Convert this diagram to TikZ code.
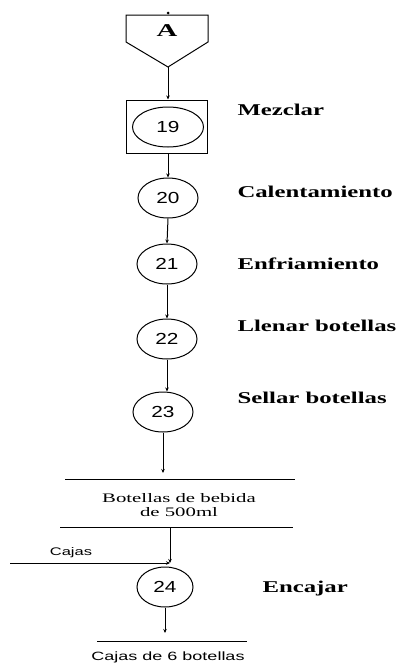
\documentclass[tikz,border=0pt]{standalone}
\usepackage{fontspec}
\setmainfont{Liberation Serif}
\setsansfont{Liberation Sans}
\usetikzlibrary{shapes.geometric,arrows.meta}
\newcommand{\sx}[2][1.5]{\scalebox{#1}[1]{#2}}
\begin{document}
\begin{tikzpicture}[x=1pt,y=-1pt, line width=1pt,
 op/.style={draw, ellipse, minimum width=60pt, minimum height=40pt, inner sep=0pt, font=\sffamily\fontsize{16}{16}\selectfont},
 lbl/.style={anchor=west, font=\bfseries\fontsize{16.5}{16.5}\selectfont, inner sep=0pt},
 txt/.style={inner sep=0pt, align=center},
 arr/.style={-{Stealth[length=4pt,width=3.5pt]}}]
\useasboundingbox (0,0) rectangle (396,672);
% off-page connector
\coordinate (pTL) at (126,15);
\coordinate (pTR) at (208,15);
\coordinate (pBR) at (208,42);
\coordinate (pApex) at (168,67);
\coordinate (pBL) at (126,42);
\draw (pTL) -- (pTR) -- (pBR) -- (pApex) -- (pBL) -- cycle;
\node[circle, fill, inner sep=0pt, minimum size=3pt] (dot) at (168,13) {};
\node[txt, font=\bfseries\fontsize{18}{18}\selectfont] (A) at (167,31) {\sx[1.6]{A}};
% operation 19 in box
\node[draw, minimum width=81pt, minimum height=53pt, inner sep=0pt] (box) at (166.5,126.5) {};
\node[op, minimum width=71pt] (n19) at (168,127) {\sx[1.3]{19}};
\node[op] (n20) at (168,198) {\sx[1.3]{20}};
\node[op] (n21) at (167,264) {\sx[1.3]{21}};
\node[op] (n22) at (167,339) {\sx[1.3]{22}};
\node[op] (n23) at (163,412) {\sx[1.3]{23}};
\node[op, minimum width=56pt] (n24) at (165,587) {\sx[1.3]{24}};
% labels
\node[lbl] (l19) at (237,110) {\sx{Mezclar}};
\node[lbl] (l20) at (237,192) {\sx{Calentamiento}};
\node[lbl] (l21) at (237,264) {\sx{Enfriamiento}};
\node[lbl] (l22) at (237,326) {\sx{Llenar botellas}};
\node[lbl] (l23) at (237,398) {\sx{Sellar botellas}};
\node[lbl] (l24) at (262,589) {\sx{Encajar}};
% connectors
\draw[arr] (pApex) -- (pApex |- box.north);
\draw[arr] (box.south -| n20.north) -- (n20.north);
\draw[arr] (n20.south) -- (n21.north);
\draw[arr] (n21.south) -- (n22.north);
\draw[arr] (n22.south) -- (n22.south |- n23.north);
% product lines
\coordinate (l1a) at (65,479);
\coordinate (l1b) at (295,479);
\coordinate (l2a) at (60,527);
\coordinate (l2b) at (293,527);
\draw (l1a) -- (l1b);
\draw (l2a) -- (l2b);
\draw[arr, shorten >=6pt] (n23.south) -- (n23.south |- l1a);
\node[txt, font=\fontsize{13}{14.5}\selectfont] (prod) at (179,505) {\sx[1.6]{Botellas de bebida}\\\sx[1.6]{de 500ml}};
\coordinate (top24) at (170,527);
\coordinate (j) at (170,563);
\coordinate (cs) at (10,563);
\draw[arr] (top24) -- (j);
\draw[arr] (cs) -- (j);
\node[txt, font=\sffamily\fontsize{11}{11}\selectfont] (cajas) at (71,553) {\sx{Cajas}};
\coordinate (l3a) at (97,641);
\coordinate (l3b) at (247,641);
\draw (l3a) -- (l3b);
\draw[arr, shorten >=8pt] (n24.south) -- (n24.south |- l3a);
\node[txt, font=\sffamily\fontsize{12}{12}\selectfont] (fin) at (168,657) {\sx{Cajas de 6 botellas}};
\end{tikzpicture}
\end{document}
